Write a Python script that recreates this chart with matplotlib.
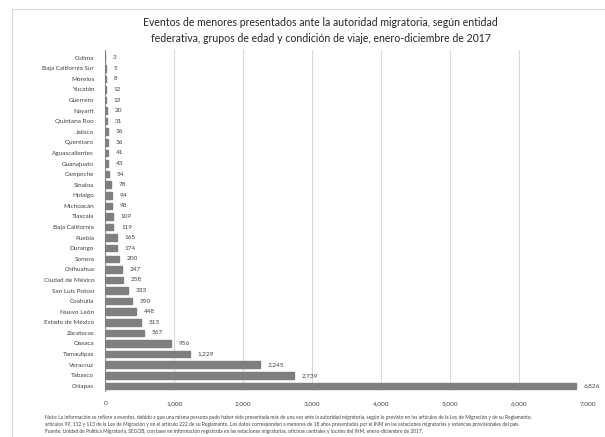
import matplotlib
matplotlib.use('Agg')
import matplotlib.pyplot as plt
from matplotlib.ticker import FuncFormatter

plt.rcParams['font.family'] = ['Lato', 'DejaVu Sans']

# entidades ordenadas de menor a mayor (arriba -> abajo)
entidades = ['Colima', 'Baja California Sur', 'Morelos', 'Yucatán', 'Guerrero', 'Nayarit',
             'Quintana Roo', 'Jalisco', 'Querétaro', 'Aguascalientes', 'Guanajuato',
             'Campeche', 'Sinaloa', 'Hidalgo', 'Michoacán', 'Tlaxcala', 'Baja California',
             'Puebla', 'Durango', 'Sonora', 'Chihuahua', 'Ciudad de México',
             'San Luis Potosí', 'Coahuila', 'Nuevo León', 'Estado de México', 'Zacatecas',
             'Oaxaca', 'Tamaulipas', 'Veracruz', 'Tabasco', 'Chiapas']
eventos = [3, 5, 8, 12, 13, 20, 31, 36, 36, 41, 43, 54, 78, 94, 98, 109, 119,
           165, 174, 200, 247, 258, 333, 390, 448, 513, 567, 956, 1229, 2245, 2739, 6826]
xticks = [0, 1000, 2000, 3000, 4000, 5000, 6000, 7000]

titulo = ('Eventos de menores presentados ante la autoridad migratoria, según entidad\n'
          'federativa, grupos de edad y condición de viaje, enero-diciembre de 2017')
nota = ('Nota: La información se refiere a eventos, debido a que una misma persona pudo haber sido presentada más de una vez ante la autoridad '
        'migratoria, según lo previsto en los artículos de la Ley de Migración y de su Reglamento,\n'
        'artículos 99, 112 y 113 de la Ley de Migración y en el artículo 222 de su Reglamento. Los datos corresponden a menores de 18 años presentados '
        'por el INM en las estaciones migratorias y estancias provisionales del país.\n'
        'Fuente: Unidad de Política Migratoria, SEGOB, con base en información registrada en las estaciones migratorias, oficinas centrales y locales '
        'del INM, enero-diciembre de 2017.')

fig = plt.figure(figsize=(6.05, 4.37), dpi=100)
fig.patch.set_facecolor('white')

# marco exterior del gráfico
frame = plt.Rectangle((0.02, -0.01), 0.99, 0.99, transform=fig.transFigure,
                      fill=False, edgecolor='#d9d9d9', linewidth=0.8)
fig.add_artist(frame)

ax = fig.add_axes([0.174, 0.105, 0.798, 0.78])
y = list(range(len(entidades)))
ax.barh(y, eventos, height=0.62, color='#7f7f7f', edgecolor='#7f7f7f', zorder=3)
for yi, v in zip(y, eventos):
    ax.text(v + 110, yi, f'{v:,}', va='center', ha='left', fontsize=4.6, color='#404040')

ax.set_yticks(y)
ax.set_yticklabels(entidades, fontsize=4.6, color='#404040')
ax.invert_yaxis()
ax.set_ylim(len(entidades) - 0.5, -0.7)
ax.set_xlim(0, 7000)
ax.set_xticks(xticks)
ax.xaxis.set_major_formatter(FuncFormatter(lambda v, p: f'{int(v):,}'))
ax.tick_params(axis='x', labelsize=4.6, colors='#404040', length=0, pad=7)
ax.tick_params(axis='y', length=0, pad=8)
ax.grid(axis='x', color='#d9d9d9', linewidth=0.8, zorder=0)
for s in ['top', 'right', 'bottom']:
    ax.spines[s].set_visible(False)
ax.spines['left'].set_color('#8c8c8c')
ax.spines['left'].set_linewidth(0.8)

fig.text(0.53, 0.96, titulo, ha='center', va='top', fontsize=7.6, color='#262626',
         linespacing=1.5)
fig.text(0.075, 0.05, nota, ha='left', va='top', fontsize=3.5, color='#404040',
         linespacing=1.45)

fig.savefig('out.png', dpi=100)
